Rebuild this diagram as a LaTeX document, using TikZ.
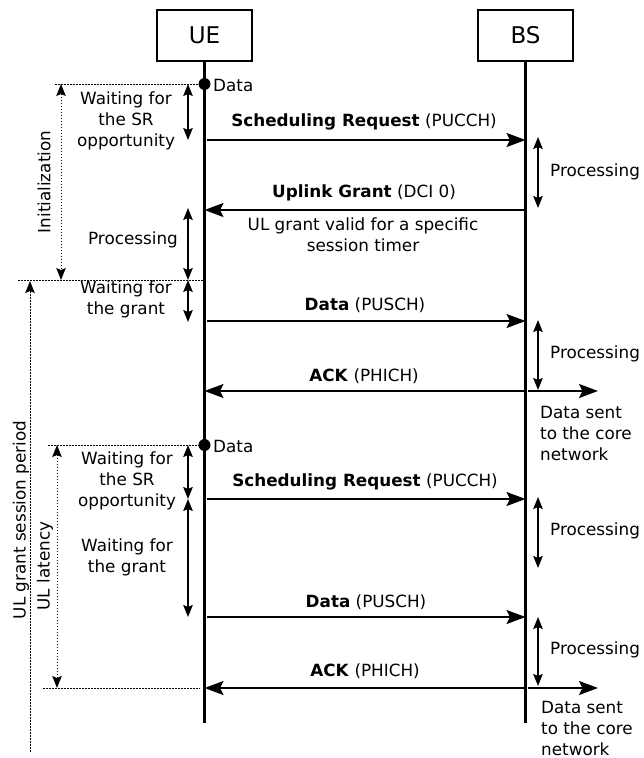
\documentclass[tikz,border=0pt]{standalone}
\usepackage{fontspec}
\setmainfont{DejaVu Sans}
\usetikzlibrary{arrows.meta}
\begin{document}
\begin{tikzpicture}[x=1pt,y=-1pt,
  txt/.style={font=\fontsize{16.8}{21}\selectfont, inner sep=0pt, align=center},
  actor/.style={draw, line width=1.5pt, minimum width=95pt, minimum height=51pt, font=\fontsize{23}{26}\selectfont, inner sep=0pt},
  life/.style={line width=2.2pt},
  msg/.style={line width=2.1pt, shorten <=2pt, -{Stealth[length=19pt,width=14pt,inset=3.5pt]}},
  span/.style={line width=1.5pt, {Stealth[length=12pt,width=9.5pt,inset=2pt]}-{Stealth[length=12pt,width=9.5pt,inset=2pt]}},
  guide/.style={line width=1pt, dash pattern=on 1.6pt off 1.4pt},
  guidearr/.style={guide, {Stealth[length=12pt,width=9.5pt,inset=2pt]}-{Stealth[length=12pt,width=9.5pt,inset=2pt]}},
  dot/.style={circle, fill, inner sep=0pt, minimum size=12pt}
]
\useasboundingbox (0,0) rectangle (644,758);

% actors and lifelines
\node[actor] (UE) at (204.5,35.5) {UE};
\node[actor] (BS) at (525.5,35.5) {BS};
\coordinate (UEend) at (204.5,723);
\coordinate (BSend) at (525.5,723);
\draw[life] (UE.south) -- (UEend);
\draw[life] (BS.south) -- (BSend);

% data arrivals
\node[dot] (d1) at (204.5,84) {};
\node[txt, anchor=west] (d1l) at (213,85) {Data};
\node[dot] (d2) at (204.5,445) {};
\node[txt, anchor=west] (d2l) at (213,446) {Data};

% guide lines
\coordinate (g1) at (55,84);
\draw[guide] (g1) -- (d1);
\coordinate (g2a) at (18,280); \coordinate (g2b) at (204.5,280);
\draw[guide] (g2a) -- (g2b);
\coordinate (g3) at (48,445);
\draw[guide] (g3) -- (d2);
\coordinate (g4a) at (43,688); \coordinate (g4b) at (200,688);
\draw[guide] (g4a) -- (g4b);

% left dotted spans
\coordinate (i1) at (61,84); \coordinate (i2) at (61,280);
\draw[guidearr] (i1) -- (i2);
\node[txt, rotate=90] (init) at (44,182) {Initialization};
\coordinate (s1) at (30,752); \coordinate (s2) at (30,281);
\draw[guide, -{Stealth[length=12pt,width=9.5pt,inset=2pt]}] (s1) -- (s2);
\node[txt, rotate=90] (sess) at (21,520) {UL grant session period};
\coordinate (l1) at (57,445); \coordinate (l2) at (57,688);
\draw[guidearr] (l1) -- (l2);
\node[txt, rotate=90] (lat) at (45,566) {UL latency};

% UE side spans
\coordinate (a1) at (188,84); \coordinate (a2) at (188,140);
\draw[span] (a1) -- (a2);
\node[txt] (w1) at (126,121) {Waiting for\\the SR\\opportunity};
\coordinate (a3) at (188,208); \coordinate (a4) at (188,280);
\draw[span] (a3) -- (a4);
\node[txt] (p1) at (133,240) {Processing};
\coordinate (a5) at (188,280); \coordinate (a6) at (188,322);
\draw[span] (a5) -- (a6);
\node[txt] (w2) at (126,299) {Waiting for\\the grant};
\coordinate (a7) at (188,445); \coordinate (a8) at (188,499);
\draw[span] (a7) -- (a8);
\node[txt] (w3) at (127,481) {Waiting for\\the SR\\opportunity};
\coordinate (a9) at (188,499); \coordinate (a10) at (188,617);
\draw[span] (a9) -- (a10);
\node[txt] (w4) at (127,557) {Waiting for\\the grant};

% BS side spans
\coordinate (b1) at (538,137); \coordinate (b2) at (538,208);
\draw[span] (b1) -- (b2);
\node[txt, anchor=west] (bp1) at (550,172) {Processing};
\coordinate (b3) at (538,320); \coordinate (b4) at (538,390);
\draw[span] (b3) -- (b4);
\node[txt, anchor=west] (bp2) at (550,354) {Processing};
\coordinate (b5) at (538,497); \coordinate (b6) at (538,568);
\draw[span] (b5) -- (b6);
\node[txt, anchor=west] (bp3) at (550,531) {Processing};
\coordinate (b7) at (538,617); \coordinate (b8) at (538,686);
\draw[span] (b7) -- (b8);
\node[txt, anchor=west] (bp4) at (550,650) {Processing};

% messages round 1
\coordinate (mu1) at (204.5,140); \coordinate (mb1) at (525.5,140);
\draw[msg] (mu1) -- (mb1);
\node[txt] (m1) at (364,122) {\textbf{Scheduling Request} (PUCCH)};
\coordinate (mu2) at (204.5,210); \coordinate (mb2) at (525.5,210);
\draw[msg] (mb2) -- (mu2);
\node[txt] (m2) at (364,193) {\textbf{Uplink Grant} (DCI 0)};
\node[txt] (m2b) at (363,235) {UL grant valid for a specific\\session timer};
\coordinate (mu3) at (204.5,321); \coordinate (mb3) at (525.5,321);
\draw[msg] (mu3) -- (mb3);
\node[txt] (m3) at (365,305) {\textbf{Data} (PUSCH)};
\coordinate (mu4) at (204.5,391); \coordinate (mb4) at (525.5,391);
\draw[msg] (mb4) -- (mu4);
\node[txt] (m4) at (364,376) {\textbf{ACK} (PHICH)};
\coordinate (c1) at (598,391);
\draw[msg] (mb4) -- (c1);
\node[txt, anchor=west, align=left] (cn1) at (540,433) {Data sent\\to the core\\network};

% messages round 2
\coordinate (mu5) at (204.5,499); \coordinate (mb5) at (525.5,499);
\draw[msg] (mu5) -- (mb5);
\node[txt] (m5) at (365,482) {\textbf{Scheduling Request} (PUCCH)};
\coordinate (mu6) at (204.5,617); \coordinate (mb6) at (525.5,617);
\draw[msg] (mu6) -- (mb6);
\node[txt] (m6) at (366,602) {\textbf{Data} (PUSCH)};
\coordinate (mu7) at (204.5,688); \coordinate (mb7) at (525.5,688);
\draw[msg] (mb7) -- (mu7);
\node[txt] (m7) at (365,671) {\textbf{ACK} (PHICH)};
\coordinate (c2) at (598,688);
\draw[msg] (mb7) -- (c2);
\node[txt, anchor=west, align=left] (cn2) at (541,728) {Data sent\\to the core\\network};
\end{tikzpicture}
\end{document}
